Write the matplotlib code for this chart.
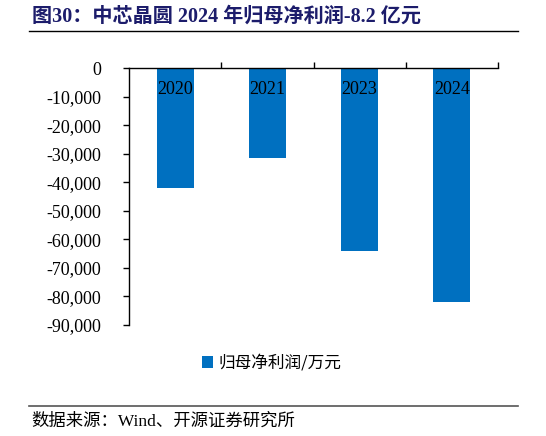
import matplotlib
matplotlib.use("Agg")
import matplotlib.pyplot as plt
from matplotlib.lines import Line2D
from matplotlib.patches import Patch

plt.rcParams["font.family"] = ["Liberation Serif", "Noto Sans CJK SC"]

# Data (万元)
years = ["2020", "2021", "2023", "2024"]
net_profit = [-42100, -31600, -64000, -82000]
yticks = list(range(0, -90001, -10000))

BAR_COLOR = "#0070C0"
TITLE_COLOR = "#1C1C6B"

W, H = 546, 436
fig = plt.figure(figsize=(W / 100, H / 100), dpi=100)
ax = fig.add_axes([129 / W, 1 - 325 / H, (498 - 129) / W, (325 - 68) / H])

x = list(range(len(years)))
ax.bar(x, net_profit, width=0.4, color=BAR_COLOR, zorder=2)
for i, yr in enumerate(years):
    ax.text(i, -7700, yr, ha="center", va="center", fontsize=13,
            family="Liberation Serif", color="black", zorder=3)

ax.set_xlim(-0.5, len(years) - 0.5)
ax.set_ylim(-90000, 0)
ax.set_yticks(yticks)
ax.set_yticklabels([f"{v:,}" for v in yticks], family="Liberation Serif", fontsize=13)

for s in ("right", "bottom"):
    ax.spines[s].set_visible(False)
ax.spines["top"].set_linewidth(1.0)
ax.spines["left"].set_linewidth(1.0)
ax.xaxis.set_ticks_position("top")
ax.set_xticks([i + 0.5 for i in x])
ax.set_xticklabels([])
ax.tick_params(axis="x", direction="out", length=4, width=1.0)
ax.tick_params(axis="y", direction="out", length=4, width=1.0, pad=16)

fig.legend(handles=[Patch(facecolor=BAR_COLOR, edgecolor="none")],
           labels=["归母净利润/万元"], loc="center",
           bbox_to_anchor=(0.497, 1 - 363 / H), frameon=False,
           handlelength=0.7, handleheight=0.7, handletextpad=0.3,
           prop={"family": ["Noto Sans CJK SC"], "size": 12})

fig.text(32 / W, 1 - 17 / H, "图30：中芯晶圆 2024 年归母净利润-8.2 亿元",
         ha="left", va="center", fontsize=14.5, fontweight="bold", color=TITLE_COLOR,
         family=["Liberation Serif", "Noto Sans CJK SC"])
fig.add_artist(Line2D([29 / W, 518 / W], [1 - 31 / H, 1 - 31 / H], color="black", lw=1.0))
fig.add_artist(Line2D([29 / W, 518 / W], [1 - 406 / H, 1 - 406 / H], color="#555555", lw=1.2))
fig.text(31 / W, 1 - 422 / H, "数据来源：Wind、开源证券研究所", ha="left", va="center",
         fontsize=12.5, color="black", family=["Liberation Serif", "Noto Sans CJK SC"])

fig.savefig("out.png", dpi=100)
